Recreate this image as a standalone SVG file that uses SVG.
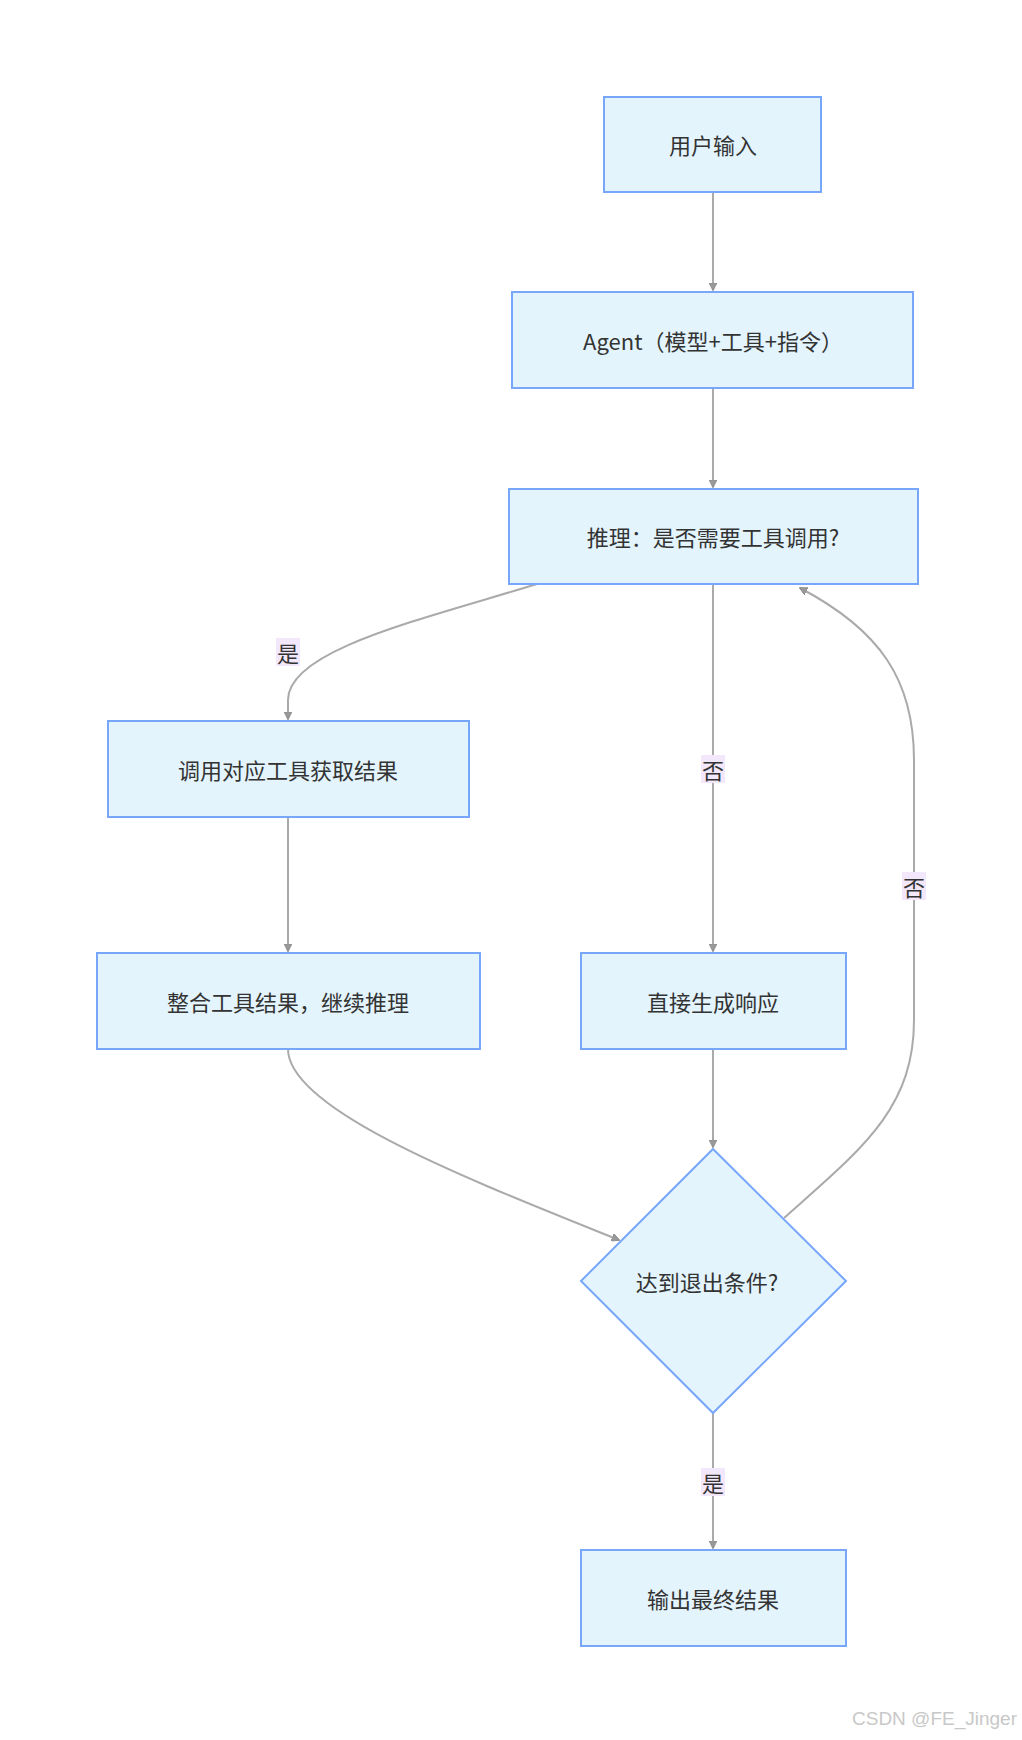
<svg xmlns="http://www.w3.org/2000/svg" width="1022" height="1740" viewBox="0 0 1022 1740">
<style>
.n{fill:#e3f4fd;stroke:#78a6fb;stroke-width:2}
.t{font-family:"Noto Sans CJK SC","Noto Sans",sans-serif;font-size:22px;fill:#333;text-anchor:middle;dominant-baseline:central}
.e{fill:none;stroke:#aaa;stroke-width:2;marker-end:url(#a)}
.lb{fill:#f3e8fb}
.l{font-family:"Noto Sans CJK SC",sans-serif;font-size:22px;fill:#333;text-anchor:middle;dominant-baseline:central}
</style>
<defs><marker id="a" viewBox="0 0 10 10" refX="9" refY="5" markerWidth="8" markerHeight="8" markerUnits="userSpaceOnUse" orient="auto"><path d="M0,0L10,5L0,10z" fill="#999" stroke="#888" transform="scale(1)"/></marker></defs>
<rect width="1022" height="1740" fill="#fff"/>
<g id="edges">
<path class="e" d="M713,192V290"/>
<path class="e" d="M713,388V487"/>
<path class="e" d="M537,584C420,620 288,650 288,700V719"/>
<path class="e" d="M713,584V951"/>
<path class="e" d="M288,817V951"/>
<path class="e" d="M288,1049C288,1110 470,1180 619,1240"/>
<path class="e" d="M713,1049V1147"/>
<path class="e" d="M784,1218C860,1150 914,1110 914,1020V760C914,680 880,630 800,588"/>
<path class="e" d="M713,1413V1548"/>
<rect class="lb" x="276" y="638" width="24" height="28"/><text class="l" x="288" y="652">是</text>
<rect class="lb" x="701" y="755" width="24" height="28"/><text class="l" x="713" y="769">否</text>
<rect class="lb" x="902" y="872" width="24" height="28"/><text class="l" x="914" y="886">否</text>
<rect class="lb" x="701" y="1468" width="24" height="28"/><text class="l" x="713" y="1482">是</text>
</g>
<g id="n1"><rect class="n" x="604" y="97" width="217" height="95"/><text class="t" x="713" y="144">用户输入</text></g>
<g id="n2"><rect class="n" x="512" y="292" width="401" height="96"/><text class="t" x="713" y="340">Agent（模型+工具+指令）</text></g>
<g id="n3"><rect class="n" x="509" y="489" width="409" height="95"/><text class="t" x="713" y="536">推理：是否需要工具调用?</text></g>
<g id="n4"><rect class="n" x="108" y="721" width="361" height="96"/><text class="t" x="288" y="769">调用对应工具获取结果</text></g>
<g id="n5"><rect class="n" x="97" y="953" width="383" height="96"/><text class="t" x="288" y="1001">整合工具结果，继续推理</text></g>
<g id="n6"><rect class="n" x="581" y="953" width="265" height="96"/><text class="t" x="713" y="1001">直接生成响应</text></g>
<g id="n7"><path class="n" d="M713,1149L846,1281L713,1413L581,1281Z"/><text class="t" x="707" y="1281">达到退出条件?</text></g>
<g id="n8"><rect class="n" x="581" y="1550" width="265" height="96"/><text class="t" x="713" y="1598">输出最终结果</text></g>
<text x="1017" y="1725" font-family="Liberation Sans,sans-serif" font-size="19" fill="#c8c8c8" text-anchor="end">CSDN @FE_Jinger</text>
</svg>
